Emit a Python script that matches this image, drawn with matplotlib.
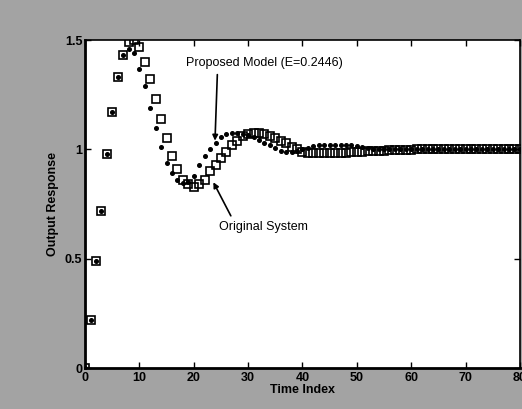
import matplotlib
matplotlib.use("Agg")
import matplotlib.pyplot as plt
import numpy as np

plt.rcParams['font.family'] = ['Liberation Sans', 'DejaVu Sans']

# Time index samples
time_index = list(range(0, 81))

# Original system response (squares)
original = [0.00, 0.22, 0.49, 0.72, 0.98, 1.17, 1.33, 1.43, 1.49, 1.50,
            1.47, 1.40, 1.32, 1.23, 1.14, 1.05, 0.97, 0.91, 0.86, 0.84,
            0.83, 0.84, 0.86, 0.90, 0.93, 0.96, 0.99, 1.02, 1.04, 1.06,
            1.07, 1.075, 1.075, 1.07, 1.06, 1.05, 1.04, 1.03, 1.01, 1.00,
            0.99, 0.985, 0.985, 0.985, 0.985, 0.985, 0.985, 0.985, 0.985, 0.987,
            0.99, 0.99, 0.992, 0.993, 0.995, 0.995, 0.996, 0.997, 0.998, 0.998,
            0.999, 1.0, 1.0, 1.0, 1.0, 1.0, 1.0, 1.0, 1.0, 1.0,
            1.0, 1.0, 1.0, 1.0, 1.0, 1.0, 1.0, 1.0, 1.0, 1.0, 1.0]

# Proposed model response (dots)
proposed = [0.00, 0.22, 0.49, 0.72, 0.98, 1.17, 1.33, 1.43, 1.46, 1.44,
            1.37, 1.29, 1.19, 1.10, 1.01, 0.94, 0.89, 0.86, 0.845, 0.85,
            0.88, 0.93, 0.97, 1.00, 1.03, 1.055, 1.07, 1.075, 1.075, 1.07,
            1.065, 1.055, 1.045, 1.03, 1.02, 1.005, 0.995, 0.99, 0.99, 0.995,
            1.0, 1.008, 1.015, 1.02, 1.02, 1.02, 1.02, 1.02, 1.02, 1.018,
            1.015, 1.01, 1.005, 1.003, 1.002, 1.0, 1.0, 1.0, 1.0, 1.0,
            1.0, 1.0, 1.0, 1.0, 1.0, 1.0, 1.0, 1.0, 1.0, 1.0,
            1.0, 1.0, 1.0, 1.0, 1.0, 1.0, 1.0, 1.0, 1.0, 1.0, 1.0]

x_ticks = [0, 10, 20, 30, 40, 50, 60, 70, 80]
y_ticks = [0, 0.5, 1, 1.5]
y_tick_labels = ["0", "0.5", "1", "1.5"]

fig = plt.figure(figsize=(5.22, 4.09), dpi=100, facecolor='#a3a3a3')
ax = fig.add_axes([0.163, 0.100, 0.833, 0.802])
ax.set_facecolor('white')

ax.plot(time_index, original, linestyle='none', marker='s', markersize=5.8,
        markerfacecolor='none', markeredgecolor='black', markeredgewidth=1.2)
ax.plot(time_index, proposed, linestyle='none', marker='o', markersize=2.6,
        markerfacecolor='black', markeredgecolor='black')

ax.set_xlim(0, 80)
ax.set_ylim(0, 1.5)
ax.set_xticks(x_ticks)
ax.set_yticks(y_ticks)
ax.set_yticklabels(y_tick_labels)
ax.tick_params(direction='in', top=True, right=True, length=4, width=1,
               labelsize=9)
for lab in ax.get_xticklabels() + ax.get_yticklabels():
    lab.set_fontweight('bold')
ax.tick_params(axis='x', pad=3)
ax.tick_params(axis='y', pad=2)

for side in ['left', 'bottom']:
    ax.spines[side].set_linewidth(2)
for side in ['top', 'right']:
    ax.spines[side].set_linewidth(1.2)

ax.set_xlabel('Time Index', fontsize=9, fontweight='bold', labelpad=0)
ax.set_ylabel('Output Response', fontsize=9, fontweight='bold', labelpad=4)

ax.annotate('Proposed Model (E=0.2446)', xy=(23.9, 1.04), xytext=(18.6, 1.395),
            fontsize=9, ha='left', va='center',
            arrowprops=dict(arrowstyle='-|>', color='black', lw=1.2,
                            mutation_scale=8, shrinkA=2, shrinkB=0,
                            relpos=(0.2, 0.0)))
ax.annotate('Original System', xy=(23.6, 0.85), xytext=(24.7, 0.645),
            fontsize=9, ha='left', va='center',
            arrowprops=dict(arrowstyle='-|>', color='black', lw=1.2,
                            mutation_scale=8, shrinkA=2, shrinkB=0,
                            relpos=(0.16, 1.0)))

fig.savefig('out.png', dpi=100, facecolor=fig.get_facecolor())
